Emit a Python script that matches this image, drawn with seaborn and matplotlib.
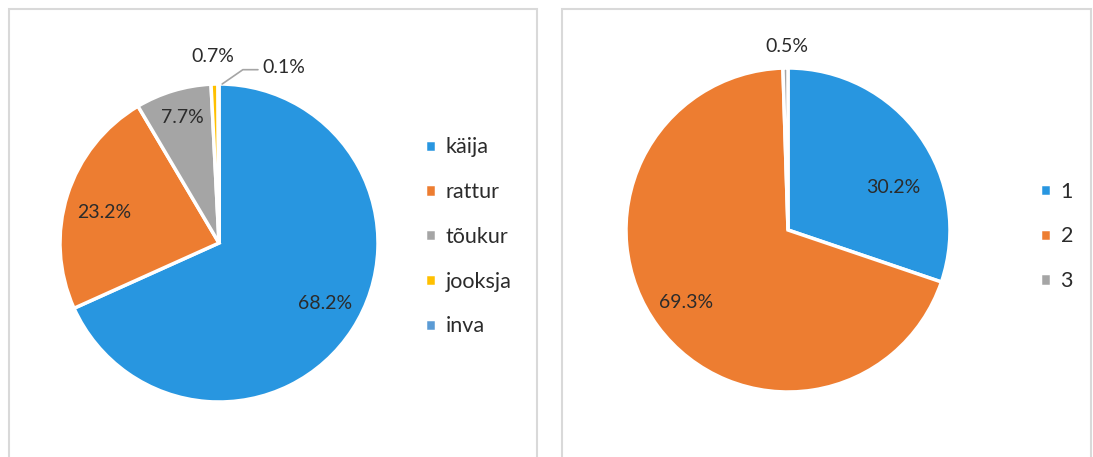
import matplotlib
matplotlib.use("Agg")
import matplotlib.pyplot as plt
from matplotlib.patches import Rectangle
import seaborn as sns

# Mode share (left) and group share (right), percent
modes = ["käija", "rattur", "tõukur", "jooksja", "inva"]
mode_share = [68.2, 23.2, 7.7, 0.7, 0.1]
mode_colors = ["#2896E0", "#ED7D31", "#A5A5A5", "#FFC000", "#5B9BD5"]

groups = ["1", "2", "3"]
group_share = [30.2, 69.3, 0.5]
group_colors = ["#2896E0", "#ED7D31", "#A5A5A5"]

sns.set_theme(style="white")
plt.rcParams["font.family"] = ["Lato", "DejaVu Sans"]

W, H = 1093, 457
fig = plt.figure(figsize=(W / 100, H / 100), dpi=100)
fig.patch.set_facecolor("white")

# panel frames
for x0, x1 in [(9, 537), (562, 1091)]:
    fig.patches.append(Rectangle((x0 / W, -0.1), (x1 - x0) / W, (H - 9) / H + 0.1,
                                 transform=fig.transFigure, fill=False,
                                 edgecolor="#D9D9D9", linewidth=1.5))


def pie_axes(cx, cy, r):
    return fig.add_axes([(cx - r) / W, (H - cy - r) / H, 2 * r / W, 2 * r / H])


def draw_pie(ax, values, colors):
    wedges, _ = ax.pie(values, colors=colors, startangle=90, counterclock=False,
                       radius=1.0, wedgeprops=dict(edgecolor="white", linewidth=2.5))
    ax.set_xlim(-1, 1)
    ax.set_ylim(-1, 1)
    ax.set_aspect("equal")
    ax.axis("off")
    return wedges


txt = dict(fontsize=14, color="#2b2b2b", ha="center", va="center")
leg = dict(loc="center left", frameon=False, fontsize=15.5, handlelength=0.5,
           handleheight=0.5, handletextpad=0.45, labelspacing=1.15, borderpad=0,
           labelcolor="#2b2b2b")

# left pie
axL = pie_axes(219, 243, 159)
wL = draw_pie(axL, mode_share, mode_colors)
left_lbl_pos = [(0.67, -0.38), (-0.72, 0.19), (-0.23, 0.79), (-0.04, 1.17), (0.41, 1.105)]
for v, (x, y) in zip(mode_share, left_lbl_pos):
    axL.text(x, y, f"{v:.1f}%", **txt)
axL.plot([0.02, 0.15, 0.245], [1.0, 1.09, 1.09], color="#A5A5A5", lw=1.2, clip_on=False)

axL.legend(wL, modes, bbox_to_anchor=(1.115, 0.519), **leg)

# right pie
axR = pie_axes(788, 230, 162)
wR = draw_pie(axR, group_share, group_colors)
right_lbl_pos = [(0.65, 0.265), (-0.63, -0.45), (-0.01, 1.13)]
for v, (x, y) in zip(group_share, right_lbl_pos):
    axR.text(x, y, f"{v:.1f}%", **txt)

axR.legend(wR, groups, bbox_to_anchor=(1.245, 0.48), **leg)

fig.savefig("out.png", dpi=100, facecolor="white")
